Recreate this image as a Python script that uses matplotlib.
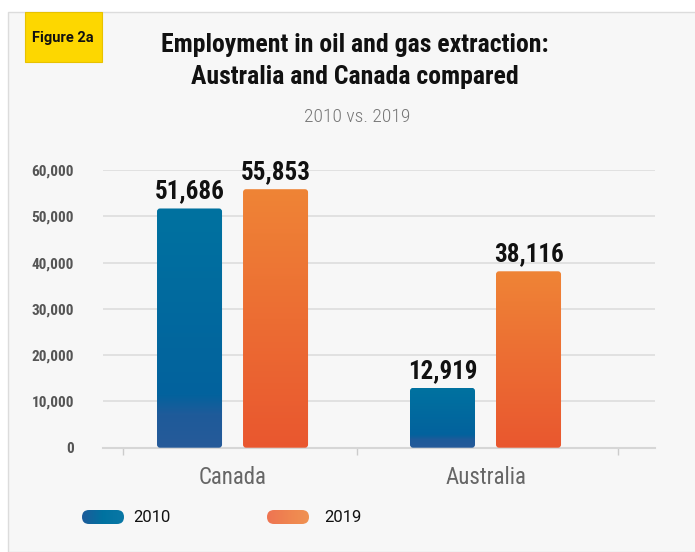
import numpy as np
import matplotlib
matplotlib.use("Agg")
import matplotlib.pyplot as plt
from matplotlib.patches import Rectangle, FancyBboxPatch

countries = ["Canada", "Australia"]
years = ["2010", "2019"]
jobs_2010 = [51686, 12919]
jobs_2019 = [55853, 38116]
yticks = [0, 10000, 20000, 30000, 40000, 50000, 60000]

# gradient stops, bottom -> top
blue = [(0.0, "#265a99"), (0.14, "#1e5b9a"), (0.22, "#03629d"), (1.0, "#0072a0")]
orange = [(0.0, "#e9572f"), (0.5, "#ec6d33"), (1.0, "#ef8436")]
# legend pill gradients, left -> right
blue_pill = ["#1d5b9a", "#0072a0", "#0a78a6"]
orange_pill = ["#ee7452", "#ef8450", "#f09252"]

cond = ["Roboto Condensed", "Liberation Sans Narrow", "Roboto", "DejaVu Sans"]

fig = plt.figure(figsize=(6.95, 5.52), dpi=100)
fig.patch.set_facecolor("white")

# grey panel
fig.patches.append(Rectangle((8/695, 0), 1, 1 - 12/552, transform=fig.transFigure,
                             facecolor="#f7f7f7", edgecolor="#dcdcdc", lw=1, zorder=-5))
# yellow badge
fig.patches.append(Rectangle((25/695, 1 - 62/552), 77/695, 50/552, transform=fig.transFigure,
                             facecolor="#fdd700", edgecolor="#e8c200", lw=0.8, zorder=-4))
fig.text(63/695, 1 - 38/552, "Figure 2a", ha="center", va="center",
         fontsize=10.5, fontweight="bold", family=["Roboto", "DejaVu Sans"], color="#111111")

fig.text(355/695, 1 - 45/552, "Employment in oil and gas extraction:", ha="center", va="center",
         fontsize=18.5, fontweight="bold", family=cond, color="#111111")
fig.text(355/695, 1 - 77/552, "Australia and Canada compared", ha="center", va="center",
         fontsize=18.5, fontweight="bold", family=cond, color="#111111")
fig.text(357/695, 1 - 117/552, "2010 vs. 2019", ha="center", va="center",
         fontsize=14, fontweight="light", family=cond, color="#777777")

ax = fig.add_axes([103/695, 1 - 447.7/552, 552/695, 277.7/552])
ax.set_facecolor("none")

x = np.arange(len(countries))
w = 0.257
off = 0.17


def grad_bars(xs, vals, stops):
    bars = ax.bar(xs, vals, w, color="none", zorder=3)
    grad = np.linspace(0, 1, 256).reshape(-1, 1)
    cmap = matplotlib.colors.LinearSegmentedColormap.from_list("g", stops)
    for b in bars:
        x0, y0 = b.get_x(), b.get_y()
        bw, bh = b.get_width(), b.get_height()
        clip = FancyBboxPatch((x0, y0), bw, bh, boxstyle="round,pad=0,rounding_size=0.012",
                              mutation_aspect=60000 / 2.18 * 552 / 277.7, transform=ax.transData,
                              facecolor="none", edgecolor="none")
        ax.add_patch(clip)
        im = ax.imshow(grad, extent=[x0, x0 + bw, y0, y0 + bh], origin="lower",
                       cmap=cmap, aspect="auto", zorder=3)
        im.set_clip_path(clip)
    for b, v in zip(bars, vals):
        ax.text(b.get_x() + b.get_width() / 2, v + 1100, f"{v:,}", ha="center", va="bottom",
                fontsize=18, fontweight="bold", family=cond, color="#111111", zorder=4)


grad_bars(x - off, jobs_2010, blue)
grad_bars(x + off, jobs_2019, orange)

ax.set_xlim(-0.512, 1.67)
ax.set_ylim(0, 60000)
ax.set_yticks(yticks)
ax.set_yticklabels([f"{t:,}" for t in yticks], fontsize=11, fontweight="bold",
                   family=cond, color="#555555")
ax.tick_params(axis="y", length=0, pad=21)
ax.yaxis.grid(True, color="#dddddd", lw=1.2, zorder=0)
ax.set_axisbelow(True)

ax.set_xticks(x)
ax.set_xticklabels(countries, fontsize=16.5, family=cond, color="#666666")
ax.tick_params(axis="x", length=0, pad=13)
ax.set_xticks([-0.433, 0.492, 1.524], minor=True)
ax.tick_params(axis="x", which="minor", length=5, color="#cccccc", width=1)

for s in ["top", "right", "left"]:
    ax.spines[s].set_visible(False)
ax.spines["bottom"].set_color("#d6d6d6")
ax.spines["bottom"].set_linewidth(1.5)

# legend: gradient pills in small axes
for lx, tx, lab, cols in [(82, 133, years[0], blue_pill), (267, 324, years[1], orange_pill)]:
    lax = fig.add_axes([lx/695, 1 - 524/552, 42/695, 14/552])
    lax.set_axis_off()
    lax.set_xlim(0, 42)
    lax.set_ylim(0, 14)
    pill = FancyBboxPatch((0, 0), 42, 14, boxstyle="round,pad=0,rounding_size=7",
                          facecolor="none", edgecolor="none", transform=lax.transData)
    lax.add_patch(pill)
    cm = matplotlib.colors.LinearSegmentedColormap.from_list("p", cols)
    im = lax.imshow(np.linspace(0, 1, 128).reshape(1, -1), extent=[0, 42, 0, 14],
                    cmap=cm, aspect="auto")
    im.set_clip_path(pill)
    fig.text(tx/695, 1 - 517/552, lab, ha="left", va="center", fontsize=12,
             family=["Roboto", "DejaVu Sans"], color="#111111")

fig.savefig("out.png", dpi=100, facecolor=fig.get_facecolor())
